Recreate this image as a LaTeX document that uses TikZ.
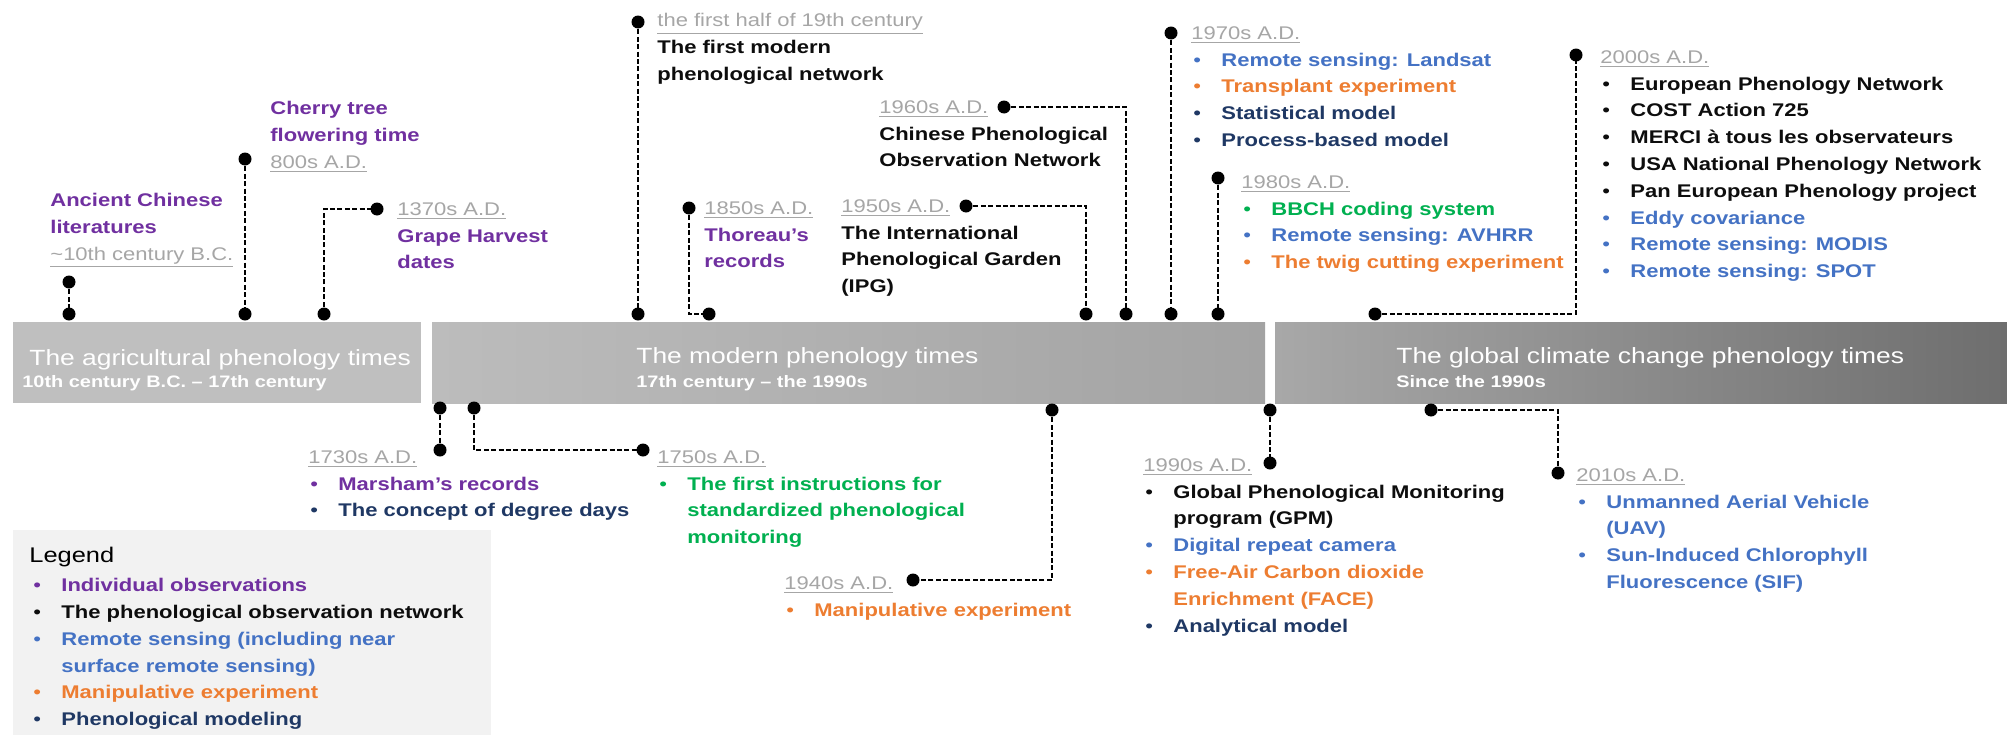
\documentclass[tikz,border=0pt]{standalone}
\usepackage{fontspec}
\setmainfont{Liberation Sans}[FakeStretch=1.2]
\definecolor{cPur}{HTML}{7030A0}
\definecolor{cBlk}{HTML}{0D0D0D}
\definecolor{cBlu}{HTML}{4472C4}
\definecolor{cOra}{HTML}{ED7D31}
\definecolor{cNav}{HTML}{1F3864}
\definecolor{cGrn}{HTML}{00B050}
\definecolor{cDate}{HTML}{A6A6A6}
\definecolor{cLeg}{HTML}{F2F2F2}
\definecolor{barA}{HTML}{BFBFBF}
\definecolor{barB}{HTML}{BCBCBC}
\definecolor{barC}{HTML}{A3A3A3}
\definecolor{barD}{HTML}{A8A8A8}
\definecolor{barE}{HTML}{6E6E6E}
\newcommand{\dte}[1]{{\mdseries\color{cDate}\underline{#1}}}
\newcommand{\itm}[2]{\makebox[15pt][l]{\hspace{1pt}{\mdseries\color{#1}\textbullet}}{\color{#1}#2}}
\newcommand{\cnt}[2]{\makebox[15pt]{}{\color{#1}#2}}
\tikzset{
  lbl/.style={anchor=north west, inner sep=0pt, align=left, font=\fontsize{9.17pt}{13.4pt}\selectfont\bfseries},
  evdot/.style={circle, fill=black, inner sep=0pt, minimum size=6.5pt},
  conn/.style={draw=black, line width=1.2pt, dash pattern=on 2.5pt off 1.2pt},
  bartitle/.style={anchor=base west, inner sep=0pt, text=white, font=\fontsize{11pt}{13pt}\selectfont},
  barsub/.style={anchor=base west, inner sep=0pt, text=white, font=\fontsize{8.3pt}{10pt}\selectfont\bfseries},
}
\begin{document}
\begin{tikzpicture}[x=0.5pt,y=-0.5pt]
\fill[white] (0,0) rectangle (2007,739);
\useasboundingbox (0,0) rectangle (2007,739);
% bars
\fill[barA] (13,322) rectangle (421,403);
\shade[left color=barB, right color=barC] (432,322) rectangle (1265,403);
\shade[left color=barD, right color=barE] (1275,322) rectangle (2007,403);
\node[bartitle] (b1t) at (29,365) {The agricultural phenology times};
\node[barsub] (b1s) at (22,387) {10th century B.C. – 17th century};
\node[bartitle] (b2t) at (636,363) {The modern phenology times};
\node[barsub] (b2s) at (636,387) {17th century – the 1990s};
\node[bartitle] (b3t) at (1396,363) {The global climate change phenology times};
\node[barsub] (b3s) at (1396,387) {Since the 1990s};
% legend
\fill[cLeg] (13,530) rectangle (491,735);
\node[anchor=north west, inner sep=0pt, font=\fontsize{10.6pt}{13pt}\selectfont] (legT) at (29,547) {Legend};
\node[lbl] (legL) at (31,578) {\itm{cPur}{Individual observations}\\\itm{cBlk}{The phenological observation network}\\\itm{cBlu}{Remote sensing (including near}\\\cnt{cBlu}{surface remote sensing)}\\\itm{cOra}{Manipulative experiment}\\\itm{cNav}{Phenological modeling}};
% dots
\node[evdot] (aT) at (69,282) {};
\node[evdot] (aB) at (69,314) {};
\node[evdot] (chT) at (245,159) {};
\node[evdot] (chB) at (245,314) {};
\node[evdot] (grB) at (324,314) {};
\node[evdot] (grT) at (377,209) {};
\node[evdot] (fhT) at (638,22) {};
\node[evdot] (fhB) at (638,314) {};
\node[evdot] (thT) at (689,208) {};
\node[evdot] (thB) at (709,314) {};
\node[evdot] (ipT) at (966,206) {};
\node[evdot] (ipB) at (1086,314) {};
\node[evdot] (cpT) at (1004,107) {};
\node[evdot] (cpB) at (1126,314) {};
\node[evdot] (s7T) at (1171,33) {};
\node[evdot] (s7B) at (1171,314) {};
\node[evdot] (s8T) at (1218,178) {};
\node[evdot] (s8B) at (1218,314) {};
\node[evdot] (z0B) at (1375,314) {};
\node[evdot] (z0T) at (1576,55) {};
\node[evdot] (m3T) at (440,408) {};
\node[evdot] (m3B) at (440,450) {};
\node[evdot] (m5T) at (474,408) {};
\node[evdot] (m5B) at (643,450) {};
\node[evdot] (f4T) at (1052,410) {};
\node[evdot] (f4B) at (913,580) {};
\node[evdot] (n9T) at (1270,410) {};
\node[evdot] (n9B) at (1270,463) {};
\node[evdot] (t1T) at (1431,410) {};
\node[evdot] (t1B) at (1558,473) {};
% connectors
\draw[conn] (aT.center) -- (aB.center);
\draw[conn] (chT.center) -- (chB.center);
\draw[conn] (grB.center) |- (grT.center);
\draw[conn] (fhT.center) -- (fhB.center);
\draw[conn] (thT.center) |- (thB.center);
\draw[conn] (ipT.center) -| (ipB.center);
\draw[conn] (cpT.center) -| (cpB.center);
\draw[conn] (s7T.center) -- (s7B.center);
\draw[conn] (s8T.center) -- (s8B.center);
\draw[conn] (z0B.center) -| (z0T.center);
\draw[conn] (m3T.center) -- (m3B.center);
\draw[conn] (m5T.center) |- (m5B.center);
\draw[conn] (f4T.center) |- (f4B.center);
\draw[conn] (n9T.center) -- (n9B.center);
\draw[conn] (t1T.center) -| (t1B.center);
% labels above
\node[lbl, text=cPur] (tAnc) at (50,193) {Ancient Chinese\\literatures\\\dte{\textasciitilde 10th century B.C.}};
\node[lbl, text=cPur] (tChe) at (270,101) {Cherry tree\\flowering time\\\dte{800s A.D.}};
\node[lbl, text=cPur] (tGra) at (397,202) {\dte{1370s A.D.}\\Grape Harvest\\dates};
\node[lbl, text=cBlk] (tFir) at (657,13) {\dte{the first half of 19th century}\\The first modern\\phenological network};
\node[lbl, text=cPur] (tTho) at (704,201) {\dte{1850s A.D.}\\Thoreau’s\\records};
\node[lbl, text=cBlk] (tIPG) at (841,199) {\dte{1950s A.D.}\\The International\\Phenological Garden\\(IPG)};
\node[lbl, text=cBlk] (tCPO) at (879,100) {\dte{1960s A.D.}\\Chinese Phenological\\Observation Network};
\node[lbl] (t70) at (1191,26) {\dte{1970s A.D.}\\\itm{cBlu}{Remote sensing: Landsat}\\\itm{cOra}{Transplant experiment}\\\itm{cNav}{Statistical model}\\\itm{cNav}{Process-based model}};
\node[lbl] (t80) at (1241,175) {\dte{1980s A.D.}\\\itm{cGrn}{BBCH coding system}\\\itm{cBlu}{Remote sensing: AVHRR}\\\itm{cOra}{The twig cutting experiment}};
\node[lbl] (t00) at (1600,50) {\dte{2000s A.D.}\\\itm{cBlk}{European Phenology Network}\\\itm{cBlk}{COST Action 725}\\\itm{cBlk}{MERCI à tous les observateurs}\\\itm{cBlk}{USA National Phenology Network}\\\itm{cBlk}{Pan European Phenology project}\\\itm{cBlu}{Eddy covariance}\\\itm{cBlu}{Remote sensing: MODIS}\\\itm{cBlu}{Remote sensing: SPOT}};
% labels below
\node[lbl] (t30) at (308,450) {\dte{1730s A.D.}\\\itm{cPur}{Marsham’s records}\\\itm{cNav}{The concept of degree days}};
\node[lbl] (t50) at (657,450) {\dte{1750s A.D.}\\\itm{cGrn}{The first instructions for}\\\cnt{cGrn}{standardized phenological}\\\cnt{cGrn}{monitoring}};
\node[lbl] (t40) at (784,576) {\dte{1940s A.D.}\\\itm{cOra}{Manipulative experiment}};
\node[lbl] (t90) at (1143,458) {\dte{1990s A.D.}\\\itm{cBlk}{Global Phenological Monitoring}\\\cnt{cBlk}{program (GPM)}\\\itm{cBlu}{Digital repeat camera}\\\itm{cOra}{Free-Air Carbon dioxide}\\\cnt{cOra}{Enrichment (FACE)}\\\itm{cNav}{Analytical model}};
\node[lbl] (t10) at (1576,468) {\dte{2010s A.D.}\\\itm{cBlu}{Unmanned Aerial Vehicle}\\\cnt{cBlu}{(UAV)}\\\itm{cBlu}{Sun-Induced Chlorophyll}\\\cnt{cBlu}{Fluorescence (SIF)}};
\end{tikzpicture}
\end{document}
